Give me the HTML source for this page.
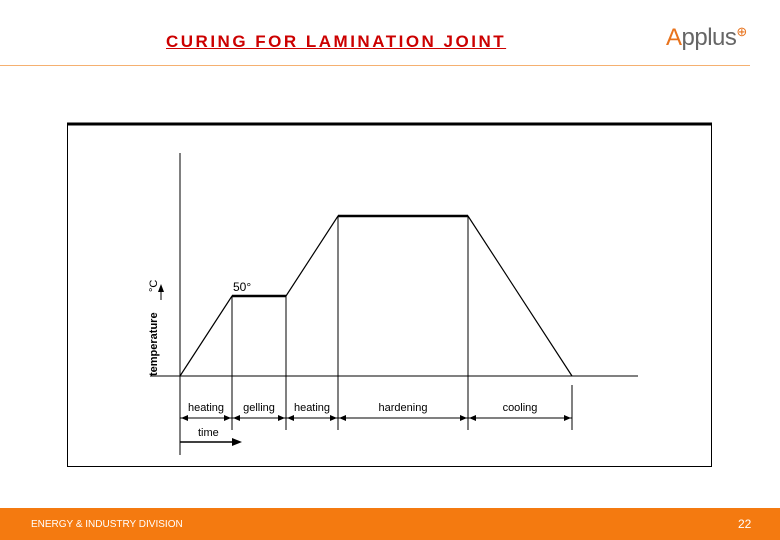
<!DOCTYPE html>
<html><head><meta charset="utf-8"><style>
body{margin:0;width:780px;height:540px;position:relative;background:#fff;font-family:"Liberation Sans",sans-serif;overflow:hidden}
</style></head><body>
<div style="position:absolute;left:166px;top:32px;font:bold 17px 'Liberation Sans',sans-serif;color:#cc0000;text-decoration:underline;letter-spacing:2.5px">CURING FOR LAMINATION JOINT</div>
<div style="position:absolute;left:666px;top:24px;font:24px 'Liberation Sans',sans-serif;letter-spacing:-0.5px"><span style="color:#e8731d">A</span><span style="color:#666">pplus</span><span style="color:#e8731d;font-size:13px;vertical-align:top">⊕</span></div>
<div style="position:absolute;left:0;top:65px;width:750px;height:1px;background:#f5b070"></div>
<div style="position:absolute;left:0;top:508px;width:780px;height:32px;background:#f47a10"></div>
<div style="position:absolute;left:31px;top:519px;font-size:10px;color:#fff">ENERGY &amp; INDUSTRY DIVISION</div>
<div style="position:absolute;left:738px;top:517px;font-size:12px;color:#fff">22</div>
<svg id="chart" width="780" height="540" style="position:absolute;left:0;top:0" font-family="Liberation Sans, sans-serif">
<rect x="67.5" y="123.5" width="644" height="343" fill="none" stroke="#000" stroke-width="1"/>
<line x1="67" y1="124" x2="712" y2="124" stroke="#000" stroke-width="3"/>
<g id="g"></g>
</svg>
<script>
const phases=["heating","gelling","heating","hardening","cooling"];
const times=[0,52,106,158,288,392];
const temps=[0,50,50,100,100,0];
const phaseEnds=[52,106,158,288,392];
const x0=180,base=376;
function sx(t){return x0+t;}
function sy(v){return base-v*1.6;}
const NS="http://www.w3.org/2000/svg",g=document.getElementById('g');
function mk(tag,a,name){const e=document.createElementNS(NS,tag);for(const k in a)e.setAttribute(k,a[k]);


g.appendChild(e);return e;}
mk('line',{x1:180,y1:153,x2:180,y2:455,stroke:'#000','stroke-width':1},'y-axis');
mk('line',{x1:150,y1:376,x2:638,y2:376,stroke:'#000','stroke-width':1},'x-axis');
mk('line',{x1:161,y1:300,x2:161,y2:290,stroke:'#000','stroke-width':1},'y-axis-arrow');
mk('path',{d:'M158 292 L161 284 L164 292Z',fill:'#000'},'y-axis-arrow-head');
let t=mk('text',{x:0,y:0,'font-size':11,'font-weight':'bold',transform:'translate(157,376) rotate(-90)'},'y-axis-title');t.textContent='temperature';
t=mk('text',{x:0,y:0,'font-size':11,transform:'translate(157,292) rotate(-90)'},'y-axis-unit');t.textContent='°C';
[1,2,3,4].forEach(i=>{mk('line',{x1:sx(times[i]),y1:sy(temps[i]),x2:sx(times[i]),y2:430,stroke:'#000','stroke-width':1},'phase-divider');});
mk('line',{x1:sx(times[5]),y1:385,x2:sx(times[5]),y2:430,stroke:'#000','stroke-width':1},'phase-divider');
let d='';times.forEach((tt,i)=>{d+=(i?'L':'M')+sx(tt)+' '+sy(temps[i])+' ';});
mk('path',{d:d,fill:'none',stroke:'#000','stroke-width':1.2},'temperature-profile');
for(let i=0;i<temps.length-1;i++)if(temps[i]===temps[i+1]&&temps[i]>0)
mk('line',{x1:sx(times[i]),y1:sy(temps[i]),x2:sx(times[i+1]),y2:sy(temps[i]),stroke:'#000','stroke-width':2.5},'hold-segment');
t=mk('text',{x:sx(times[1])+1,y:sy(50)-5,'font-size':12},'label-50');t.textContent='50°';
let prev=0;
phaseEnds.forEach((e,i)=>{const a=sx(prev),b=sx(e);
mk('line',{x1:a,y1:418,x2:b,y2:418,stroke:'#000','stroke-width':1},'phase-arrow');
mk('path',{d:`M${a+1} 418 L${a+8} 415 L${a+8} 421Z`,fill:'#000'},'arrow-head');
mk('path',{d:`M${b-1} 418 L${b-8} 415 L${b-8} 421Z`,fill:'#000'},'arrow-head');
const tx=mk('text',{x:(a+b)/2,y:411,'font-size':11,'text-anchor':'middle'},'phase-label');tx.textContent=phases[i];prev=e;});
mk('line',{x1:180,y1:385,x2:180,y2:455,stroke:'#000','stroke-width':1},'time-left-tick');
mk('line',{x1:180,y1:442,x2:234,y2:442,stroke:'#000','stroke-width':1.5},'time-arrow');
mk('path',{d:'M242 442 L232 438 L232 446Z',fill:'#000'},'time-arrow-head');
t=mk('text',{x:198,y:436,'font-size':11},'x-axis-title');t.textContent='time';
</script>
</body></html>
